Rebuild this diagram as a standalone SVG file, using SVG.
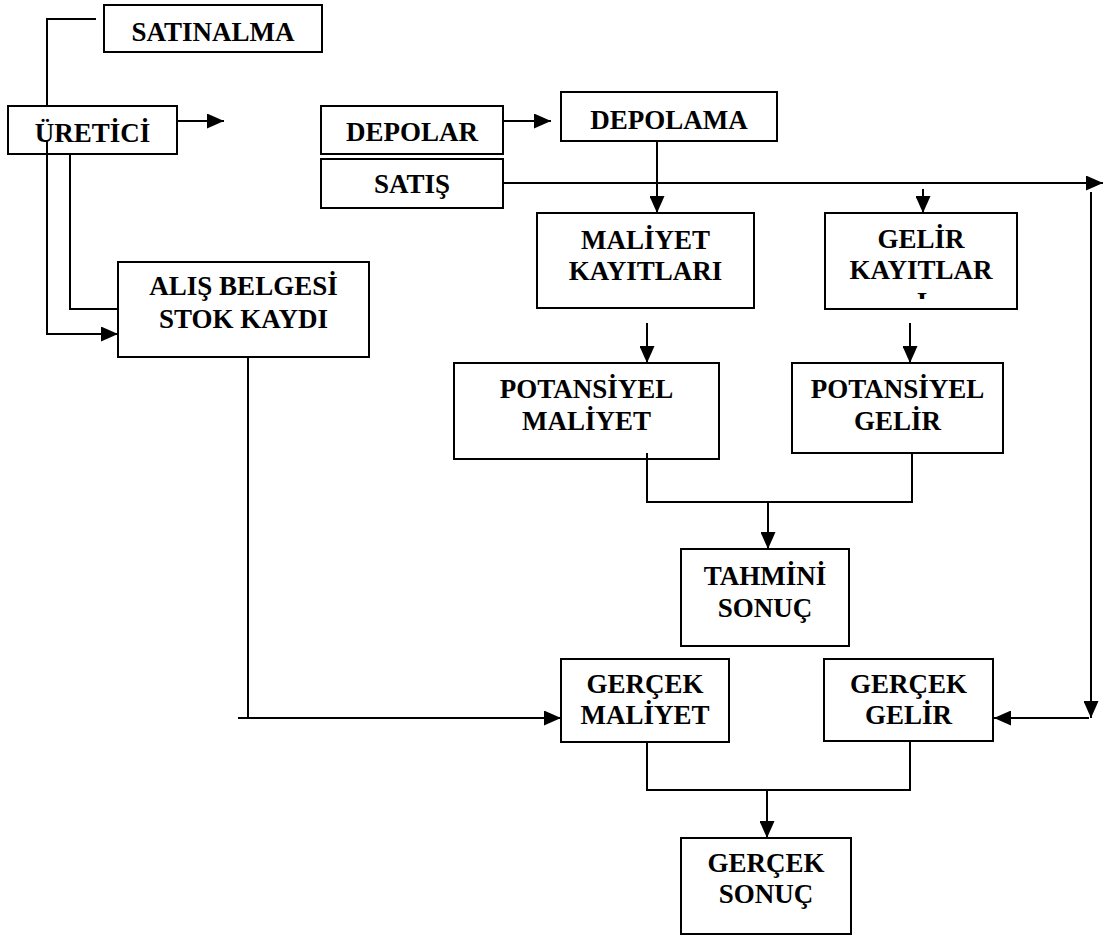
<svg xmlns="http://www.w3.org/2000/svg" width="1107" height="938" viewBox="0 0 1107 938">
  <style>
    .box { fill: #fff; stroke: #000; stroke-width: 2; }
    .lbl { font-family: "Liberation Serif", "Times New Roman", serif; font-weight: bold; font-size: 27px; fill: #000; text-anchor: middle; }
    .ln { fill: none; stroke: #000; stroke-width: 2; }
    .arr { fill: none; stroke: #000; stroke-width: 2; marker-end: url(#head); }
  </style>
  <defs>
    <marker id="head" markerUnits="userSpaceOnUse" markerWidth="17" markerHeight="15" refX="17" refY="7.5" orient="auto">
      <path d="M0,0 L17,7.5 L0,15 Z" fill="#000"/>
    </marker>
    <clipPath id="gelirClip">
      <rect x="826" y="214" width="190" height="85"/>
    </clipPath>
  </defs>
  <rect width="1107" height="938" fill="#fff"/>

  <!-- connectors -->
  <g id="connectors">
    <path class="ln" d="M96,19 H47 V107"/>
    <path class="arr" d="M47,141 V334 H118"/>
    <path class="arr" d="M177,121 H224"/>
    <path class="arr" d="M118,309 H70 V137"/>
    <path class="arr" d="M503,121 H551"/>
    <path class="arr" d="M657,141 V213"/>
    <path class="arr" d="M503,183 H1103"/>
    <path class="arr" d="M1091,192 V718"/>
    <path class="arr" d="M1089,718 H994"/>
    <path class="arr" d="M923,189 V213"/>
    <path class="arr" d="M647,323 V363"/>
    <path class="arr" d="M910,323 V363"/>
    <path class="ln" d="M647,453 V502 H912 V453"/>
    <path class="arr" d="M768,502 V549"/>
    <path class="ln" d="M248,357 V718"/>
    <path class="arr" d="M238,718 H561"/>
    <path class="ln" d="M647,742 V790 H910 V741"/>
    <path class="arr" d="M767,790 V838"/>
  </g>

  <g id="satinalma">
    <rect class="box" x="104" y="5" width="218" height="47"/>
    <text class="lbl" x="213" y="41">SATINALMA</text>
  </g>
  <g id="uretici">
    <rect class="box" x="8" y="106" width="169" height="48"/>
    <path class="ln" d="M47,154 V141"/>
    <text class="lbl" x="92.5" y="142">ÜRETİCİ</text>
  </g>
  <g id="depolar">
    <rect class="box" x="321" y="106" width="182" height="48"/>
    <text class="lbl" x="412" y="141">DEPOLAR</text>
  </g>
  <g id="satis">
    <rect class="box" x="321" y="159" width="182" height="49"/>
    <text class="lbl" x="412" y="193">SATIŞ</text>
  </g>
  <g id="depolama">
    <rect class="box" x="561" y="92" width="216" height="49"/>
    <text class="lbl" x="669" y="129">DEPOLAMA</text>
  </g>
  <g id="maliyet-kayitlari">
    <rect class="box" x="537" y="213" width="217" height="95"/>
    <text class="lbl" x="645.5" y="249">MALİYET</text>
    <text class="lbl" x="645.5" y="280">KAYITLARI</text>
  </g>
  <g id="gelir-kayitlari">
    <rect class="box" x="825" y="213" width="192" height="96"/>
    <text class="lbl" x="921" y="248">GELİR</text>
    <text class="lbl" x="921" y="279">KAYITLAR</text>
    <text class="lbl" x="922" y="311" clip-path="url(#gelirClip)">I</text>
  </g>
  <g id="alis-belgesi">
    <rect class="box" x="118" y="262" width="251" height="95"/>
    <text class="lbl" x="243.5" y="295">ALIŞ BELGESİ</text>
    <text class="lbl" x="243.5" y="328">STOK KAYDI</text>
  </g>
  <g id="potansiyel-maliyet">
    <rect class="box" x="454" y="363" width="265" height="96"/>
    <path class="ln" d="M647,453 V459"/>
    <text class="lbl" x="586.5" y="398">POTANSİYEL</text>
    <text class="lbl" x="586.5" y="430">MALİYET</text>
  </g>
  <g id="potansiyel-gelir">
    <rect class="box" x="792" y="363" width="211" height="90"/>
    <text class="lbl" x="897.5" y="398">POTANSİYEL</text>
    <text class="lbl" x="897.5" y="430">GELİR</text>
  </g>
  <g id="tahmini-sonuc">
    <rect class="box" x="681" y="549" width="168" height="97"/>
    <text class="lbl" x="765" y="585">TAHMİNİ</text>
    <text class="lbl" x="765" y="617">SONUÇ</text>
  </g>
  <g id="gercek-maliyet">
    <rect class="box" x="561" y="659" width="168" height="83"/>
    <text class="lbl" x="645" y="693">GERÇEK</text>
    <text class="lbl" x="645" y="724">MALİYET</text>
  </g>
  <g id="gercek-gelir">
    <rect class="box" x="824" y="659" width="169" height="82"/>
    <text class="lbl" x="908.5" y="693">GERÇEK</text>
    <text class="lbl" x="908.5" y="724">GELİR</text>
  </g>
  <g id="gercek-sonuc">
    <rect class="box" x="681" y="838" width="170" height="96"/>
    <text class="lbl" x="766" y="872">GERÇEK</text>
    <text class="lbl" x="766" y="903">SONUÇ</text>
  </g>
</svg>
